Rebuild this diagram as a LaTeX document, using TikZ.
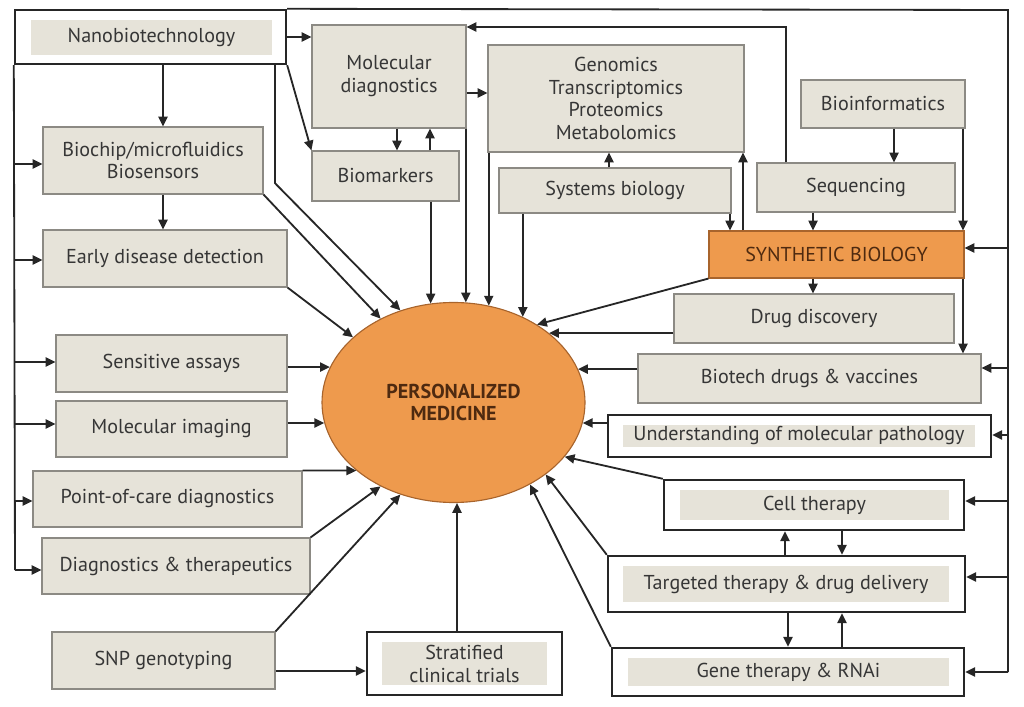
\documentclass[tikz,border=0pt]{standalone}
\usepackage{fontspec}
\setmainfont{PT Sans}
\usetikzlibrary{arrows.meta,shapes.geometric,calc}
\definecolor{boxfill}{HTML}{E6E3D9}
\definecolor{boxedge}{HTML}{8C8A84}
\definecolor{txt}{HTML}{363636}
\definecolor{orfill}{HTML}{EE9A4D}
\definecolor{oredge}{HTML}{A8642C}
\definecolor{ortxt}{HTML}{4E2A10}
\begin{document}
\begin{tikzpicture}[x=0.025cm,y=-0.025cm,
  font=\fontsize{14.3}{16.3}\selectfont,
  sz/.style 2 args={minimum width=#1*0.025cm, minimum height=#2*0.025cm},
  gbox/.style={draw=boxedge, line width=0.8pt, fill=boxfill, text=txt, align=center, inner sep=0pt},
  wbox/.style={draw=black!85, line width=1.7pt, fill=white, inner sep=0pt},
  ibox/.style={fill=boxfill, text=txt, align=center, inner sep=0pt},
  obox/.style={draw=oredge, line width=0.8pt, fill=orfill, text=ortxt, align=center, inner sep=0pt},
  conn/.style={draw=black!85, line width=1.3pt},
  arr/.style={conn, -{Triangle[length=7pt,width=6.5pt]}}]

\useasboundingbox (0,0) rectangle (1024,707);

% ---- boxes ----
\node[wbox, sz={271}{54}] (nano) at (150.5,37) {};
\node[ibox, sz={241}{35}] (nanoT) at (151.5,37.5) {Nanobiotechnology};

\node[gbox, sz={154}{103}] (md) at (389,76.5) {Molecular\\diagnostics};
\node[gbox, sz={147}{50}] (bm) at (385.5,176) {Biomarkers};
\node[gbox, sz={256}{107}] (ge) at (616,98.5) {Genomics\\Transcriptomics\\Proteomics\\Metabolomics};
\node[gbox, sz={164}{48}] (bi) at (883,104) {Bioinformatics};
\node[gbox, sz={232}{45}] (sy) at (615,190.5) {Systems biology};
\node[gbox, sz={198}{49}] (sq) at (856,187.5) {Sequencing};
\node[obox, sz={255}{47}] (sb) at (836.5,254.5) {SYNTHETIC BIOLOGY};
\node[gbox, sz={280}{49}] (dd) at (814,318.5) {Drug discovery};
\node[gbox, sz={343}{49}] (bd) at (809.5,378.5) {Biotech drugs \& vaccines};

\node[wbox, sz={383}{42}] (um) at (799.5,436) {};
\node[ibox, sz={352}{22}] (umT) at (799,436) {Understanding of molecular pathology};
\node[wbox, sz={300}{50}] (ct) at (814,505) {};
\node[ibox, sz={269}{30}] (ctT) at (814.5,505) {Cell therapy};
\node[wbox, sz={357}{56}] (tt) at (786.5,584) {};
\node[ibox, sz={326}{36}] (ttT) at (786,584) {Targeted therapy \& drug delivery};
\node[wbox, sz={352}{48}] (gt) at (788,672) {};
\node[ibox, sz={321}{28}] (gtT) at (788.5,672) {Gene therapy \& RNAi};
\node[wbox, sz={195}{63}] (st) at (464.5,663.5) {};
\node[ibox, sz={165}{43}] (stT) at (464.5,663.5) {Stratified\\clinical trials};

\node[gbox, sz={220}{67}] (bc) at (153,160.5) {Biochip/microfluidics\\Biosensors};
\node[gbox, sz={244}{57}] (ed) at (165,258.5) {Early disease detection};
\node[gbox, sz={231}{57}] (sa) at (171.5,363.5) {Sensitive assays};
\node[gbox, sz={231}{56}] (mi) at (171.5,429) {Molecular imaging};
\node[gbox, sz={269}{56}] (poc) at (167.5,499) {Point-of-care diagnostics};
\node[gbox, sz={268}{56}] (dt) at (176,566) {Diagnostics \& therapeutics};
\node[gbox, sz={223}{57}] (snp) at (163.5,660.5) {SNP genotyping};

\node[ellipse, draw=oredge, line width=0.8pt, fill=orfill, sz={263}{200}, inner sep=0pt, text=ortxt, font=\fontsize{14.3}{16.3}\selectfont\bfseries, align=center] (pm) at (453.5,402.5) {PERSONALIZED\\MEDICINE};

% ---- buses ----
\coordinate (lb) at (15,570);
\coordinate (tr) at (1008,10);
\coordinate (br) at (1008,672);
\draw[conn] (nano.south west) -- (lb);
\draw[conn] (nano.north east) -- (tr) -- (br);

% left bus arrows
\draw[arr] (lb |- 0,164) -- (bc.west |- 0,164);
\draw[arr] (lb |- 0,260) -- (ed.west |- 0,260);
\draw[arr] (lb |- 0,362) -- (sa.west |- 0,362);
\draw[arr] (lb |- 0,424) -- (mi.west |- 0,424);
\draw[arr] (lb |- 0,501) -- (poc.west |- 0,501);
\draw[arr] (lb) -- (dt.west |- lb);

% right bus arrows
\draw[arr] (br |- 0,248) -- (sb.east |- 0,248);
\draw[arr] (br |- 0,368) -- (bd.east |- 0,368);
\draw[arr] (br |- 0,435) -- (um.east |- 0,435);
\draw[arr] (br |- 0,501) -- (ct.east |- 0,501);
\draw[arr] (br |- 0,577) -- (tt.east |- 0,577);
\draw[arr] (br) -- (gt.east |- br);

% top-left connectors
\draw[arr] (nano.south -| 163,0) -- (bc.north -| 163,0);
\draw[arr] (bc.south -| 163,0) -- (ed.north -| 163,0);
\draw[arr] (nano.east) -- (md.west |- nano.east);
\draw[arr] (nano.south east) -- (bm.north west);
\draw[arr] (md.south -| 397,0) -- (bm.north -| 397,0);
\draw[arr] (bm.north -| 430,0) -- (md.south -| 430,0);
\draw[arr] (md.east |- 0,93) -- (ge.west |- 0,93);
\draw[arr] (sq.north -| 786,0) |- (md.east |- 0,27);
\draw[arr] (sy.north -| 609,0) -- (ge.south -| 609,0);
\draw[arr] (sy.south -| 730,0) -- (sb.north -| 730,0);
\draw[arr] (sb.north -| 743,0) -- (ge.south -| 743,0);
\draw[arr] (bi.south -| 894,0) -- (sq.north -| 894,0);
\draw[arr] (sq.south -| 813,0) -- (sb.north -| 813,0);
\draw[arr] (bi.south -| 963,0) -- (sb.north -| 963,0);
\draw[arr] (sb.south -| 813,0) -- (dd.north -| 813,0);
\draw[arr] (sb.south -| 963,0) -- (bd.north -| 963,0);

% bottom-right links
\draw[arr] (tt.north -| 785,0) -- (ct.south -| 785,0);
\draw[arr] (ct.south -| 842,0) -- (tt.north -| 842,0);
\draw[arr] (tt.south -| 788,0) -- (gt.north -| 788,0);
\draw[arr] (gt.north -| 842,0) -- (tt.south -| 842,0);
\draw[arr] (snp.east |- 0,671) -- (st.west |- 0,671);

% into personalized medicine
\draw[arr] (nano.south -| 275,0) -- ++(0,118) -- (pm.120.9);
\draw[arr] (bc.south east) -- (pm.131.8);
\draw[arr] (ed.south east) -- (pm.147.7);
\draw[arr] (pm.103.4 |- bm.south) -- (pm.103.4);
\draw[arr] (pm.83.4 |- md.south) -- (pm.83.4);
\draw[arr] (pm.70.3 |- ge.south) -- (pm.70.3);
\draw[arr] (pm.51.8 |- sy.south) -- (pm.51.8);
\draw[arr] (sb.south west) -- (pm.43.9);
\draw[arr] (dd.west |- pm.36.3) -- (pm.36.3);
\draw[arr] (bd.west |- pm.15.6) -- (pm.15.6);
\draw[arr] (um.west |- pm.-9.05) -- (pm.-9.05);
\draw[arr] (ct.north west) -- (pm.-26.9);
\draw[arr] (tt.north west) -- (pm.-38.6);
\draw[arr] (gt.north west) -- (pm.-47.1);
\draw[arr] (pm.-88 |- st.north) -- (pm.-88);
\draw[arr] (snp.north east) -- (pm.-120.9);
\draw[arr] (dt.north east) -- (pm.-131);
\draw[arr] (poc.north east) -- (pm.215.6);
\draw[arr] (mi.east |- pm.189.05) -- (pm.189.05);
\draw[arr] (sa.east |- pm.164.9) -- (pm.164.9);
\end{tikzpicture}
\end{document}
